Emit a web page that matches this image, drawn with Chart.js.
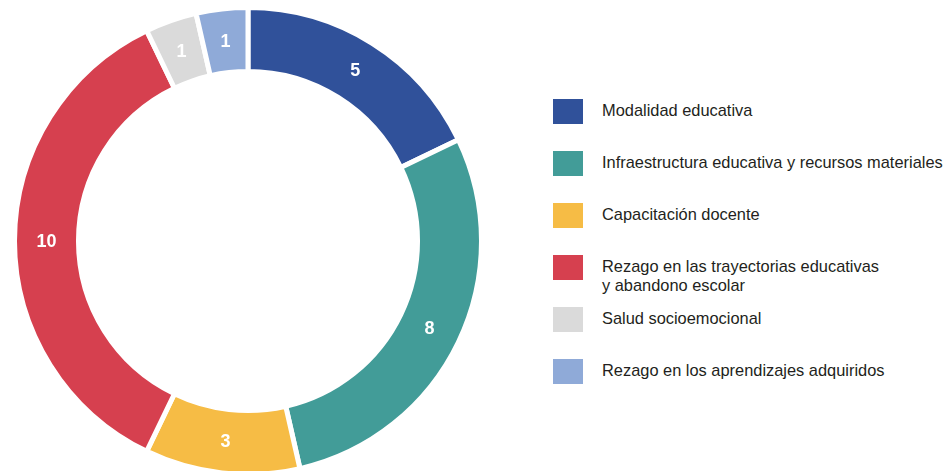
<!DOCTYPE html>
<html>
<head>
<meta charset="utf-8">
<script src="https://cdn.jsdelivr.net/npm/chart.js@4.4.0/dist/chart.umd.min.js"></script>
<style>
  html, body { margin: 0; padding: 0; background: #fff; overflow: hidden; }
  body { width: 948px; height: 471px; position: relative; }
  #chartBox { position: absolute; left: 12px; top: 5px; width: 472px; height: 472px; }
  #legend { position: absolute; left: 0; top: 0; }
  .leg-item { position: absolute; left: 553px; }
  .leg-box { position: absolute; left: 0; top: 0; width: 30px; height: 25px; }
  .leg-text { position: absolute; left: 49px; top: 2px; white-space: nowrap;
    font-family: "Liberation Sans", Arial, sans-serif;
    font-size: 16.4px; line-height: 19px; color: #231f20; }
</style>
</head>
<body>
<div id="chartBox"><canvas id="donutChart"></canvas></div>
<div id="legend"></div>
<script>
// categories (legend lines) and values
var cat_labels = [
  ["Modalidad educativa"],
  ["Infraestructura educativa y recursos materiales"],
  ["Capacitación docente"],
  ["Rezago en las trayectorias educativas", "y abandono escolar"],
  ["Salud socioemocional"],
  ["Rezago en los aprendizajes adquiridos"]
];
var cat_values = [5, 8, 3, 10, 1, 1];
var cat_colors = ['#30519a', '#429c98', '#f6bc45', '#d6404f', '#dadada', '#8faad8'];

// white numbers in the middle of each arc
var arcLabels = {
  id: 'arcLabels',
  afterDatasetsDraw: function(chart) {
    var ctx = chart.ctx;
    var meta = chart.getDatasetMeta(0);
    ctx.save();
    ctx.fillStyle = '#ffffff';
    ctx.font = 'bold 18px "Liberation Sans", Arial, sans-serif';
    ctx.textAlign = 'center';
    ctx.textBaseline = 'middle';
    meta.data.forEach(function(arc, i) {
      var p = arc.getCenterPoint();
      ctx.fillText(String(chart.data.datasets[0].data[i]), p.x, p.y + 1);
    });
    ctx.restore();
  }
};

var ctx = document.getElementById("donutChart").getContext('2d');
window.donut_chart = new Chart(ctx, {
  type: 'doughnut',
  data: {
    labels: cat_labels.map(function(l) { return l.join(' '); }),
    datasets: [{
      data: cat_values,
      backgroundColor: cat_colors,
      borderColor: '#ffffff',
      borderWidth: 5,
      hoverOffset: 0
    }]
  },
  options: {
    responsive: true,
    maintainAspectRatio: false,
    animation: false,
    cutout: '72.6%',
    layout: { padding: 0 },
    plugins: {
      legend: { display: false },
      tooltip: { enabled: false }
    }
  },
  plugins: [arcLabels]
});

// legend built from the same arrays
var leg = document.getElementById("legend");
var i = 0;
while (i < cat_labels.length) {
  var item = document.createElement('div');
  item.className = 'leg-item';
  item.style.top = (99 + i * 52) + 'px';
  var box = document.createElement('div');
  box.className = 'leg-box';
  box.style.background = cat_colors[i];
  var txt = document.createElement('div');
  txt.className = 'leg-text';
  txt.innerHTML = cat_labels[i].join('<br>');
  item.appendChild(box);
  item.appendChild(txt);
  leg.appendChild(item);
  i = i + 1;
}
</script>
</body>
</html>
